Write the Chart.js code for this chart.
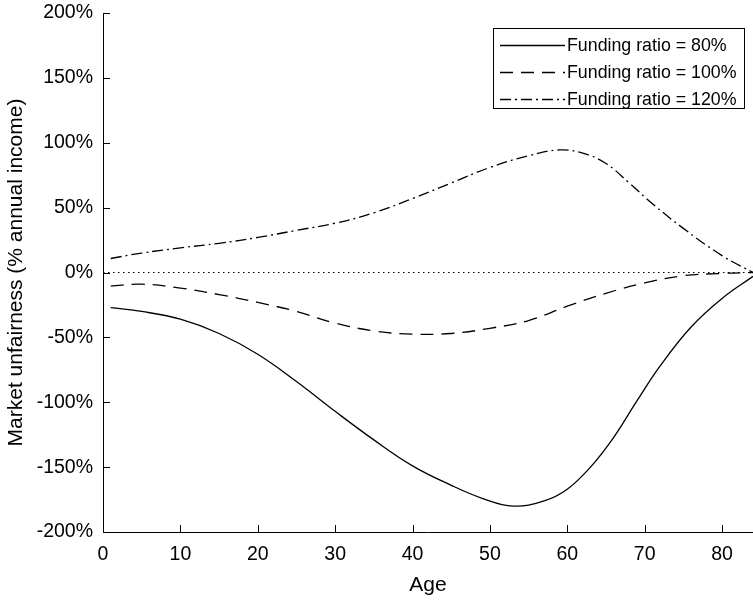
<!DOCTYPE html>
<html>
<head>
<meta charset="utf-8">
<script src="https://cdn.jsdelivr.net/npm/chart.js@4"></script>
<style>
  body { margin: 0; background: #fff; }
  #wrap { width: 753px; height: 601px; position: relative; }
</style>
</head>
<body>
<div id="wrap"><canvas id="myChart"></canvas></div>
<script>
// Données (âge, % du revenu annuel)
const seriesNames = ['Funding ratio = 80%', 'Funding ratio = 100%', 'Funding ratio = 120%'];

const ages80 = [1, 5, 10, 15, 20, 25, 30, 35, 40, 45, 49, 53, 57, 60, 63, 66, 69, 72, 76, 80, 84];
const vals80 = [-27, -30, -36, -47, -63, -84, -107, -129, -149, -164, -174, -180, -176, -167, -150, -127, -99, -72, -42, -20, -3];

const ages100 = [1, 5, 10, 15, 20, 25, 30, 35, 40, 45, 50, 55, 60, 65, 70, 75, 80, 84];
const vals100 = [-10.5, -9, -12, -17, -23, -30, -39, -45, -47.5, -47, -43, -37, -26, -16, -8, -2.5, -0.7, 0];

const ages120 = [1, 5, 10, 15, 20, 25, 30, 35, 40, 45, 50, 55, 59, 62, 65, 68, 71, 75, 80, 84];
const vals120 = [10.8, 15, 19, 22.5, 27, 32.5, 38, 46, 57, 69, 81, 90, 94.5, 92, 84, 69, 53, 34, 13, 0];

const xTicks = [0, 10, 20, 30, 40, 50, 60, 70, 80];
const yTicks = [-200, -150, -100, -50, 0, 50, 100, 150, 200];

const police = 'Liberation Sans, Arial, Helvetica, sans-serif';

function toPoints(xs, ys) {
    return xs.map((x, i) => ({ x: x, y: ys[i] }));
}

// Petits traits vers l'intérieur + légende encadrée
const ticksEtLegende = {
    id: 'ticksEtLegende',
    afterDraw(chart) {
        const ctx = chart.ctx;
        const area = chart.chartArea;
        const sx = chart.scales.x;
        const sy = chart.scales.y;
        ctx.save();
        ctx.strokeStyle = '#000';
        ctx.lineWidth = 1;
        ctx.setLineDash([]);
        ctx.beginPath();
        xTicks.forEach(v => {
            const px = Math.round(sx.getPixelForValue(v)) + 0.5;
            ctx.moveTo(px, area.bottom);
            ctx.lineTo(px, area.bottom - 7);
        });
        yTicks.forEach(v => {
            const py = Math.round(sy.getPixelForValue(v)) + 0.5;
            ctx.moveTo(area.left, py);
            ctx.lineTo(area.left + 7, py);
        });
        ctx.stroke();

        // légende
        ctx.strokeRect(493.5, 28.5, 251, 80);
        ctx.font = '17.8px ' + police;
        ctx.fillStyle = '#000';
        ctx.textBaseline = 'middle';
        const rows = [45, 72, 99];
        for (let i = 0; i < 3; i++) {
            const ds = chart.data.datasets[i];
            ctx.beginPath();
            ctx.setLineDash(ds.borderDash || []);
            ctx.lineWidth = ds.borderWidth;
            ctx.moveTo(500, rows[i] + 0.5);
            ctx.lineTo(565, rows[i] + 0.5);
            ctx.stroke();
            ctx.setLineDash([]);
            ctx.fillText(ds.label, 567, rows[i] + 1);
        }
        ctx.restore();
    }
};

const ctx = document.getElementById('myChart').getContext('2d');
const myChart = new Chart(ctx, {
    type: 'line',
    data: {
        datasets: [
            {
                label: seriesNames[0],
                data: toPoints(ages80, vals80),
                borderColor: '#000',
                borderWidth: 1.3,
                borderDash: []
            },
            {
                label: seriesNames[1],
                data: toPoints(ages100, vals100),
                borderColor: '#000',
                borderWidth: 1.3,
                borderDash: [13, 8]
            },
            {
                label: seriesNames[2],
                data: toPoints(ages120, vals120),
                borderColor: '#000',
                borderWidth: 1.3,
                borderDash: [11, 4, 2, 4]
            },
            {
                label: 'zero',
                data: toPoints([0, 84], [0, 0]),
                borderColor: '#000',
                borderWidth: 1.2,
                borderDash: [1.5, 3.5],
                tension: 0
            }
        ]
    },
    options: {
        responsive: true,
        maintainAspectRatio: false,
        animation: false,
        elements: { point: { radius: 0 }, line: { tension: 0.4 } },
        layout: { padding: { top: 13, right: 0, left: 0, bottom: 0 } },
        plugins: {
            legend: { display: false },
            tooltip: { enabled: false }
        },
        scales: {
            x: {
                type: 'linear',
                min: 0,
                max: 84,
                afterBuildTicks: s => { s.ticks = xTicks.map(v => ({ value: v })); },
                afterFit: s => { s.height = 69; s.paddingLeft = 0; s.paddingRight = 0; },
                grid: { display: true, drawOnChartArea: false, drawTicks: false },
                border: { display: true, color: '#000', width: 1 },
                ticks: {
                    color: '#000',
                    font: { family: police, size: 19.5 },
                    padding: 11,
                    maxRotation: 0
                },
                title: {
                    display: true,
                    text: 'Age',
                    color: '#000',
                    font: { family: police, size: 21 },
                    padding: { top: 0, bottom: 3 }
                }
            },
            y: {
                min: -200,
                max: 200,
                afterBuildTicks: s => { s.ticks = yTicks.map(v => ({ value: v })); },
                afterFit: s => { s.width = 103; s.paddingTop = 0; s.paddingBottom = 0; },
                grid: { display: true, drawOnChartArea: false, drawTicks: false },
                border: { display: true, color: '#000', width: 1 },
                ticks: {
                    color: '#000',
                    font: { family: police, size: 19.5 },
                    padding: 10,
                    callback: v => v + '%'
                },
                title: {
                    display: true,
                    text: 'Market unfairness (% annual income)',
                    color: '#000',
                    font: { family: police, size: 21 },
                    padding: { top: 4, bottom: 0 }
                }
            }
        }
    },
    plugins: [ticksEtLegende]
});
</script>
</body>
</html>
